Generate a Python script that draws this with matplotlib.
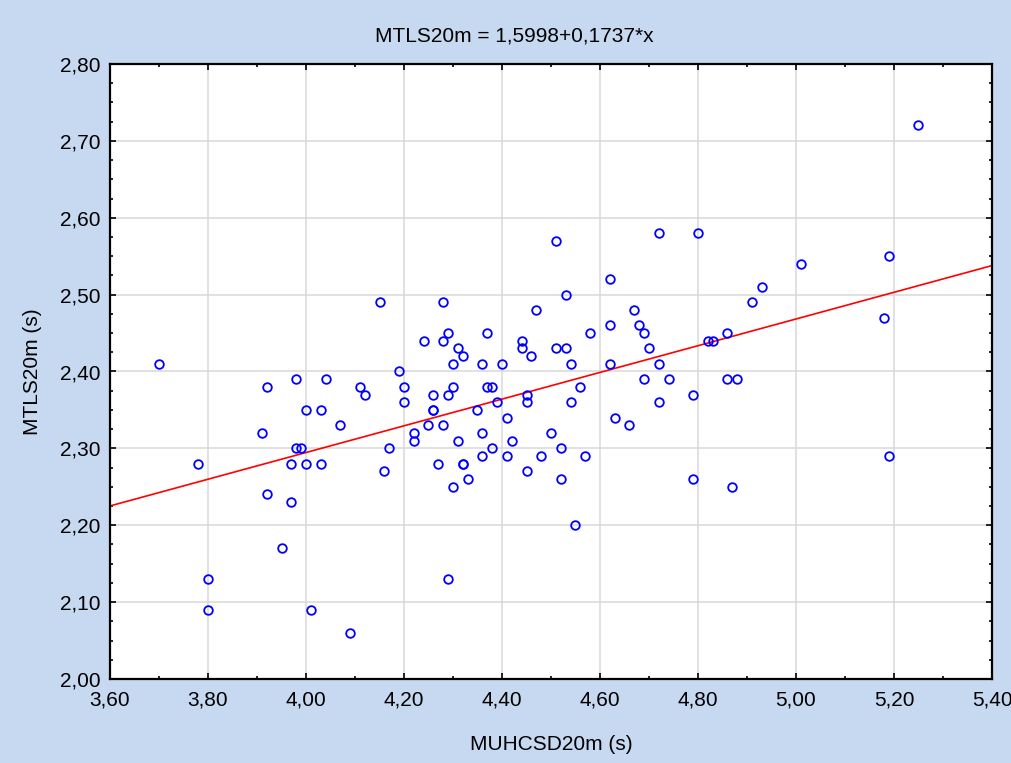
import matplotlib
matplotlib.use('Agg')
import matplotlib.pyplot as plt
from matplotlib.ticker import MultipleLocator, FuncFormatter

# data
muhcsd = [3.70, 3.92, 3.98, 4.04, 4.11, 4.00, 4.03, 4.07, 3.91, 3.98,
          3.99, 3.78, 3.97, 4.00, 4.03, 3.92, 3.97, 3.95, 3.80, 3.80,
          4.01, 4.09, 4.15, 4.28, 4.53, 4.47, 4.29, 4.37, 4.58, 4.24,
          4.28, 4.44, 4.44, 4.31, 4.32, 4.46, 4.51, 4.53, 4.30, 4.36,
          4.40, 4.54, 4.19, 4.12, 4.20, 4.20, 4.26, 4.29, 4.30, 4.37,
          4.38, 4.45, 4.45, 4.39, 4.56, 4.54, 4.26, 4.26, 4.35, 4.41,
          4.25, 4.28, 4.22, 4.22, 4.17, 4.31, 4.36, 4.38, 4.42, 4.50,
          4.52, 4.36, 4.41, 4.48, 4.57, 4.16, 4.27, 4.32, 4.32, 4.45,
          4.30, 4.33, 4.52, 4.55, 4.29, 4.51, 4.72, 4.80, 4.62, 5.01,
          4.93, 4.91, 4.67, 4.62, 4.68, 4.69, 4.70, 4.82, 4.83, 4.86,
          4.62, 4.72, 4.69, 4.74, 4.86, 4.88, 4.79, 4.72, 4.63, 4.66,
          4.79, 4.87, 5.25, 5.19, 5.18, 5.19]
mtls = [2.41, 2.38, 2.39, 2.39, 2.38, 2.35, 2.35, 2.33, 2.32, 2.30,
        2.30, 2.28, 2.28, 2.28, 2.28, 2.24, 2.23, 2.17, 2.13, 2.09,
        2.09, 2.06, 2.49, 2.49, 2.50, 2.48, 2.45, 2.45, 2.45, 2.44,
        2.44, 2.44, 2.43, 2.43, 2.42, 2.42, 2.43, 2.43, 2.41, 2.41,
        2.41, 2.41, 2.40, 2.37, 2.38, 2.36, 2.37, 2.37, 2.38, 2.38,
        2.38, 2.37, 2.36, 2.36, 2.38, 2.36, 2.35, 2.35, 2.35, 2.34,
        2.33, 2.33, 2.32, 2.31, 2.30, 2.31, 2.32, 2.30, 2.31, 2.32,
        2.30, 2.29, 2.29, 2.29, 2.29, 2.27, 2.28, 2.28, 2.28, 2.27,
        2.25, 2.26, 2.26, 2.20, 2.13, 2.57, 2.58, 2.58, 2.52, 2.54,
        2.51, 2.49, 2.48, 2.46, 2.46, 2.45, 2.43, 2.44, 2.44, 2.45,
        2.41, 2.41, 2.39, 2.39, 2.39, 2.39, 2.37, 2.36, 2.34, 2.33,
        2.26, 2.25, 2.72, 2.55, 2.47, 2.29]

intercept = 1.5998
slope = 0.1737
x_range = [3.60, 5.40]

bg = '#c6d9f0'
plt.rcParams['font.family'] = ['Liberation Sans', 'DejaVu Sans']

fig = plt.figure(figsize=(10.11, 7.63), dpi=100, facecolor=bg)
ax = fig.add_axes([110 / 1011, 1 - 679 / 763, 882 / 1011, 615 / 763])

ax.grid(True, which='major', color='#d9d9d9', linewidth=1.1)
ax.set_axisbelow(True)

line_y = [intercept + slope * v for v in x_range]
ax.plot(x_range, line_y, color='red', linewidth=1.2, zorder=2)
ax.plot(muhcsd, mtls, linestyle='none', marker='o', markersize=6.2,
        markerfacecolor='none', markeredgecolor='blue', markeredgewidth=1.3, zorder=3)

ax.set_xlim(3.60, 5.40)
ax.set_ylim(2.00, 2.80)
ax.xaxis.set_major_locator(MultipleLocator(0.2))
ax.xaxis.set_minor_locator(MultipleLocator(0.1))
ax.yaxis.set_major_locator(MultipleLocator(0.1))
ax.yaxis.set_minor_locator(MultipleLocator(0.025))
fmt = FuncFormatter(lambda v, p: f'{v:.2f}'.replace('.', ','))
ax.xaxis.set_major_formatter(fmt)
ax.yaxis.set_major_formatter(fmt)

ax.tick_params(which='both', direction='in', top=True, right=True, labelsize=15, colors='black')
ax.tick_params(which='major', length=4, width=1.2)
ax.tick_params(which='minor', length=2.5, width=1.2)
ax.tick_params(axis='x', which='major', pad=8)
ax.tick_params(axis='y', which='major', pad=7)
for s in ax.spines.values():
    s.set_linewidth(1.6)

fig.text(514 / 1011, 1 - 36 / 763, 'MTLS20m = 1,5998+0,1737*x', ha='center', va='center', fontsize=15)
fig.text(551 / 1011, 1 - 745 / 763, 'MUHCSD20m (s)', ha='center', va='center', fontsize=15)
fig.text(32 / 1011, 1 - 372 / 763, 'MTLS20m (s)', ha='center', va='center', rotation=90, fontsize=15)

fig.savefig('out.png', dpi=100, facecolor=bg)
